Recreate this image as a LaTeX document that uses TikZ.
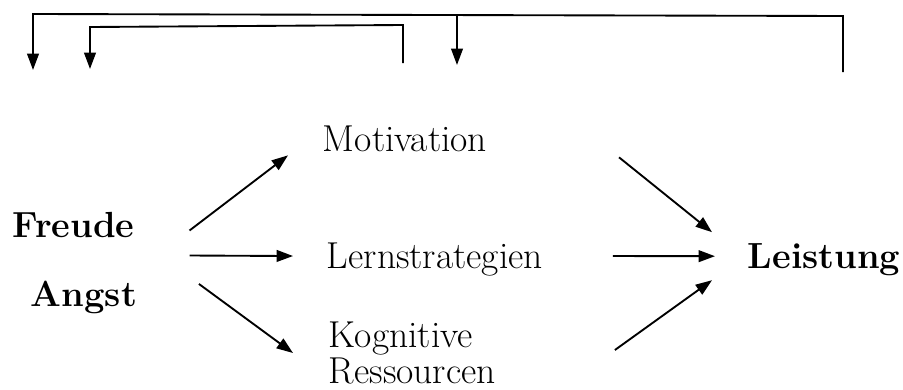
\documentclass[tikz,border=0pt]{standalone}
\usetikzlibrary{arrows.meta}
\begin{document}
\begin{tikzpicture}[x=0.03cm,y=-0.03cm,>={Triangle[length=14pt,width=10pt]},line width=1.6pt,
    every node/.style={inner sep=0pt,font=\fontsize{32}{34}\selectfont},
    factor/.style={font=\fontsize{31}{33}\selectfont\bfseries}]
    \useasboundingbox (0,0) rectangle (903,389);
    % Emotionen
    \node[factor,anchor=base west](freude) at (12,237){Freude};
    \node[factor,anchor=base west](angst) at (30,306){Angst};
    % Vermittler
    \node[anchor=base west](motiv) at (322,151){Motivation};
    \node[anchor=base west](lern) at (326,268){Lernstrategien};
    \node[anchor=base west](kogn) at (328,347){Kognitive};
    \node[anchor=base west](ress) at (328,383){Ressourcen};
    \node[factor,anchor=base west](leist) at (747,268){Leistung};
    % Pfeile
    \draw[->]([shift={(54,6)}]freude.east)--([shift={(-34,17)}]motiv.west);
    \draw[->]([shift={(54,31)}]freude.east)--([shift={(-33,-3)}]lern.west);
    \draw[->]([shift={(61,-13)}]angst.east)--([shift={(-35,15)}]kogn.west);
    \draw[->]([shift={(131,19)}]motiv.east)--([shift={(-35,-27)}]leist.west);
    \draw[->]([shift={(69,-3)}]lern.east)--([shift={(-32,-3)}]leist.west);
    \draw[->]([shift={(141,12)}]kogn.east)--([shift={(-35,21)}]leist.west);
    % Rueckwirkung
    \coordinate (r) at (843,72);
    \coordinate (m) at (403,63);
    \draw[->](r)--(843,16)--(33,14)--(33,70);
    \draw[->](457,15)--(457,65);
    \draw[->](m)--(403,25)--(90,27)--(90,69);
\end{tikzpicture}
\end{document}
